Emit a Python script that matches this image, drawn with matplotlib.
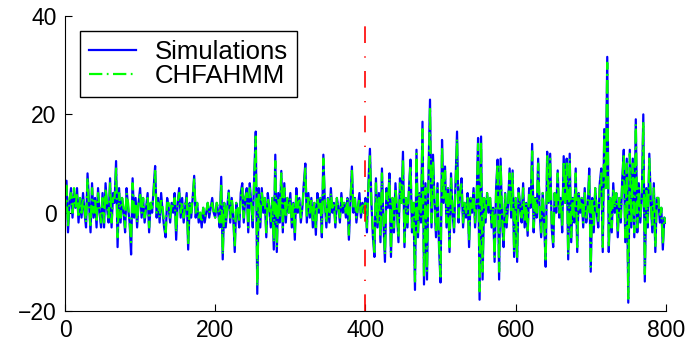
import numpy as np
import matplotlib
matplotlib.use("Agg")
import matplotlib.pyplot as plt

plt.rcParams['font.family'] = ['Liberation Sans', 'DejaVu Sans']

# sampled every 2 time steps, 0..800
simulations = [
    0, 6.5, -4, 2, 5, -1, 4, 1, 5, -2, 3, -1, 4, 0, -3, 8, 2, -4, 6, -1, 3, -3, 5, 0, -3,
    4, -3, 6, 1, -2, 7, -3, 4, 2, 10.5, -7, 5, -2, 3, 0, -4, 5, 1, -2, -8.5, 7, -1, 3, -3, 2,
    5, -1, 3, -2, 1, 4, -4, 2, 0, 5, 9.5, -1, 3, -2, 4, 0, -3, -5, 3, 1, -2, 2, 0, 4, -5.5,
    2, 5, -1, 3, -2, 1, 4, -7.5, 2, -1, 3, 7.5, -1, 2, -2, 0, -3, 1, -2, 0, 2, -1, 1, 3, 0,
    -1, 2, 0, -3, 7.3, -9.5, 2, -3, 1, 4.5, -2, 3, -1, -8, 2, 0, -3, 4, 6, -2, 3, 5, -4, 6, 2,
    -3, 8, 16.5, -16.5, 5, -3, 5, 0, 3, -5, 4, 1, -3, 3, -7.5, 11.8, -8, 4, -2, 8.5, -4, 6, -2, 3, 0,
    4, -3, 2, -5.5, 5, 0, 3, -2, 1, 6, 10, -2, 4, -1, 3, -3, 2, -4.5, 4, 0, 3, -5, 11.8, 2, -3,
    3, -2, 5, 0, 2, -3, 3, 1, -2, 4, 0, 2, -1, 3, -5.5, 2, 9.4, 0, 3, -2, 1, 4, -1, 2, 0,
    3, -4, 6, 13, 2, -5, -9, 7, -3, 4, -6, 9, -2, -10, 5, 1, 8, -9, 3, -4, 6, 0, -6, 7, 2,
    12.4, -7, 3, -3, 5, 10.8, -4, 2, -15.7, 12.8, -5, 4, -2, 18.5, -14.6, 6, -13.6, 8, 23, -3, 11.8, 2, -5, 6, -7,
    -14.2, 14.8, 2, 9.4, -3, 5, -8, 8, 0, -4, 6, 16.5, -2, 4, 7, -3, 2, -1, 4, -7, 3, 0, 5, -3, 2,
    15.2, -17.7, 15.5, -13.6, 3, -2, 4, 0, 3, -3, 1, -10, 5, 10.8, -13.6, 11, -2, -7, 4, -3, 2, 9, -1, 8.6, -9,
    3, -10, 5, 1, -2, 6, -3, 2, -4.7, 5, 1, 14, -4, 3, -1, 11, 0, -5, 4, -2, -11, 12.4, 2, 12, -3,
    -7, 4, 0, 8.6, -1, 3, -4, 11.5, 2, 11, -9.5, 12, -6, 3, -2, 9, -8, 4, 0, 3, -3, 5, -2, 1, 9,
    -12, 3, -4, 5, 0, -3, 6, 9, -8, 17, 5, 31.7, -8, 3, -4, 6, 0, 4, -5, 3, -2, 7, 12.8, -6, 11,
    -18.3, 12.8, -3, 11, -5, 19, -4, 6, -2, 3, 20, -14, 5, -3, 12, 2, -4, 6, -8, 3, 3, -2, 1, -7.5, -1,
    -2,
]

chfahmm = [
    0, 5.5, -3, 3, 4, 0, 5, 1, 4, -1, 3, 0, 3, 1, -2, 7, 1, -3, 5, 0, 3, -2, 4, 1, -2,
    3, -2, 5, 2, -1, 6, -2, 3, 3, 9, -5, 4, -1, 3, 1, -3, 4, 2, -2, -6, 6, 0, 2, -2, 2,
    4, 0, 3, -1, 1, 3, -3, 2, 1, 4, 8.5, 0, 2, -1, 3, 1, -2, -4, 2, 2, -1, 2, 1, 3, -4,
    2, 4, 0, 2, -1, 2, 3, -6.5, 2, 0, 3, 7, 0, 2, -1, 0, -2, 1, -1, 0, 2, 0, 1, 2, 0,
    -1, 2, 1, -2, 6, -8.5, 2, -2, 1, 4, -1, 3, 0, -7, 2, 1, -2, 3, 5, -1, 3, 4, -3, 5, 2,
    -2, 7, 15.5, -15, 4, -2, 4, 1, 3, -4, 3, 1, -2, 3, -6, 10.5, -7, 3, -1, 8, -3, 5, -1, 3, 0,
    3, -2, 2, -4.5, 4, 1, 3, -1, 1, 5, 9, -1, 3, 0, 3, -2, 2, -3.5, 3, 1, 3, -4, 11, 2, -2,
    3, -1, 4, 1, 2, -2, 3, 1, -1, 3, 1, 2, 0, 3, -4.5, 2, 8.5, 1, 3, -1, 1, 3, 0, 2, 0,
    2, -3, 5, 11.5, 2, -4, -8, 6, -2, 3, -5, 8, -1, -8.5, 4, 2, 7, -8, 3, -3, 5, 1, -5, 6, 2,
    11, -6, 3, -2, 5, 9.5, -3, 2, -14, 12, -4, 4, -1, 17, -13, 5, -12, 7, 21.5, -2, 10.5, 2, -4, 5, -6,
    -13, 13.5, 3, 8.5, -2, 5, -7, 7, 1, -3, 5, 15, -1, 4, 6, -2, 2, 0, 3, -6, 3, 1, 4, -2, 2,
    14, -16, 14.5, -12, 3, -1, 4, 1, 3, -2, 1, -9, 4, 10, -12, 10, -1, -6, 4, -2, 2, 8, 0, 8, -8,
    3, -9, 4, 2, -1, 5, -2, 2, -4, 4, 2, 12.5, -3, 3, 0, 10, 1, -4, 4, -1, -10, 11.5, 2, 11, -2,
    -6, 4, 1, 8, 0, 3, -3, 10.5, 2, 10, -8.5, 11, -5, 3, -1, 8, -7, 4, 1, 3, -2, 4, -1, 1, 8,
    -11, 3, -3, 5, 1, -2, 5, 8, -7, 16, 5, 30.5, -7, 3, -3, 5, 1, 4, -4, 3, -1, 6, 12, -5, 10,
    -17.5, 12, -2, 10, -4, 18, -3, 5, -1, 3, 18.5, -12.5, 5, -2, 11, 2, -3, 5, -7, 3, 3, -1, 1, -6.5, -1,
    -2,
]

t = np.arange(len(simulations)) * 2
split_at = 400

fig = plt.figure(figsize=(6.93, 3.47), dpi=100)
ax = fig.add_axes([0.0938, 0.1037, 0.867, 0.850])

ax.plot(t, simulations, color='#0000ff', lw=1.6, label='Simulations')
l2, = ax.plot(t, chfahmm, color='#00ff00', lw=1.6, label='CHFAHMM')
l2.set_dashes((6, 2, 0.8, 2))
vl = ax.axvline(split_at, color='red', lw=1.2)
vl.set_dashes((10, 8, 0.8, 8))

ax.set_xlim(0, 800)
ax.set_ylim(-20, 40)
ax.set_xticks([0, 200, 400, 600, 800])
ax.set_yticks([-20, 0, 20, 40])
ax.tick_params(direction='in', length=5, labelsize=16.5, pad=6)
ax.spines['top'].set_visible(False)
ax.spines['right'].set_visible(False)

leg = ax.legend(loc='upper left', fontsize=18.5, fancybox=False, framealpha=1,
                edgecolor='black', borderaxespad=0.6, handlelength=1.8,
                handletextpad=0.75, labelspacing=0.0, borderpad=0.35)
leg.get_frame().set_linewidth(1.0)

plt.savefig('out.png', dpi=100)
